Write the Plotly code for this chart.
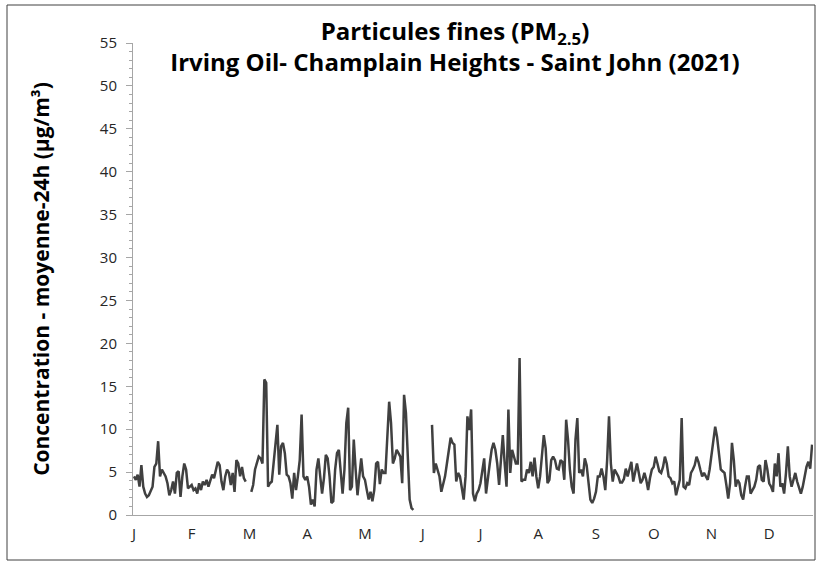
import plotly.graph_objects as go

# Moyennes 24h de PM2.5 (µg/m³), une valeur par jour
jan = [4.5, 4.1, 4.7, 3.3, 5.8, 3.3, 2.5, 2.1, 2.3, 2.9, 3.3, 5.6, 6.0, 8.6, 4.5, 5.3,
       4.9, 4.5, 3.7, 2.3, 2.9, 3.9, 2.5, 4.9, 5.1, 2.1, 4.5, 6.0, 5.3, 3.1, 3.3]
feb = [3.5, 2.9, 3.1, 2.5, 3.7, 2.9, 3.9, 3.5, 4.1, 3.3, 4.1, 4.7, 4.3, 5.3, 6.2, 5.8,
       3.9, 2.9, 4.5, 5.3, 4.9, 3.5, 4.9, 2.7, 6.4, 6.0, 4.5, 5.6]
mar = [4.3, 3.9, None, None, 2.7, 3.5, 5.3, 6.0, 6.8, 6.6, 6.0, 15.8, 15.4, 3.3, 3.7, 3.9,
       6.0, 8.4, 10.5, 4.7, 8.0, 8.4, 7.2, 4.7, 4.5, 3.7, 1.9, 4.9, 2.9, 4.5, 6.4]
apr = [11.7, 4.5, 4.1, 4.5, 3.3, 1.2, 1.8, 1.0, 5.3, 6.6, 4.5, 2.5, 4.3, 7.0, 6.6, 4.5,
       1.4, 1.6, 5.3, 7.2, 7.6, 4.5, 2.5, 5.3, 10.7, 12.5, 2.9, 3.3, 8.8, 5.3]
may = [2.3, 4.5, 6.6, 4.5, 4.1, 2.9, 1.8, 2.7, 1.6, 2.9, 6.0, 6.2, 3.6, 5.3, 4.9, 4.9,
       9.2, 13.2, 10.7, 6.0, 6.6, 7.6, 7.2, 6.8, 3.7, 14.0, 11.9, 6.0, 1.8, 0.8, 0.6]
jun = [None, None, None, None, None, None, None, None, None, 10.5, 4.9, 6.0, 5.3, 4.5,
       2.7, 3.6, 4.5, 6.0, 7.4, 9.0, 8.4, 8.2, 3.9, 4.9, 4.5, 2.9, 1.8, 4.5, 11.5, 9.9]
jul = [12.3, 2.5, 1.6, 2.5, 2.9, 3.7, 5.3, 6.6, 2.5, 4.5, 6.0, 7.6, 8.4, 7.6, 6.0, 3.5,
       6.0, 9.3, 6.0, 3.3, 12.3, 4.9, 7.6, 6.8, 6.0, 6.0, 18.3, 3.9, 4.1, 4.1, 5.3]
aug = [4.9, 6.2, 4.5, 6.7, 4.5, 3.1, 4.5, 6.8, 9.3, 7.8, 3.7, 4.1, 6.4, 6.8, 6.4, 5.4,
       5.3, 6.4, 6.2, 4.1, 11.1, 8.8, 5.3, 3.3, 2.5, 8.8, 11.3, 4.9, 5.3, 4.5, 6.6]
sep = [5.8, 3.3, 1.8, 1.4, 1.9, 2.7, 4.5, 4.5, 5.4, 4.5, 2.9, 6.4, 11.5, 6.0, 3.9, 5.3,
       4.9, 4.5, 3.8, 3.8, 4.2, 5.4, 4.5, 5.3, 6.2, 3.9, 4.9, 6.0, 4.9, 3.7]
oct = [4.1, 4.9, 4.1, 2.9, 4.3, 5.3, 5.6, 6.8, 6.0, 5.1, 4.9, 5.6, 6.8, 6.0, 4.5, 4.3,
       3.7, 3.9, 2.3, 3.3, 4.1, 11.3, 3.3, 3.1, 3.7, 3.5, 4.9, 5.3, 5.8, 6.8, 6.2]
nov = [5.3, 4.5, 4.9, 4.5, 4.1, 5.3, 7.2, 9.1, 10.3, 9.1, 6.8, 5.3, 5.1, 4.9, 3.5, 1.9,
       3.7, 8.4, 6.4, 3.3, 4.1, 3.7, 2.3, 1.8, 3.3, 4.5, 4.5, 2.5, 2.9, 3.3]
dec = [4.1, 5.6, 5.8, 4.1, 3.9, 6.4, 5.3, 3.7, 3.3, 2.7, 6.0, 4.5, 7.2, 3.3, 3.7, 2.5,
       4.9, 8.0, 4.5, 3.3, 4.1, 4.9, 3.9, 3.1, 2.5, 3.3, 4.5, 5.6, 6.2, 5.4, 8.2]

# étiquettes de l'axe X (une toutes les 31 valeurs, comme dans Excel)
mois = ["J", "F", "M", "A", "M", "J", "J", "A", "S", "O", "N", "D"]

valeurs = jan + feb + mar + apr + may + jun + jul + aug + sep + oct + nov + dec
jours = list(range(len(valeurs)))

fig = go.Figure()
fig.add_trace(go.Scatter(x=jours, y=valeurs, mode="lines",
                         line=dict(color="#404040", width=2.5),
                         connectgaps=False, showlegend=False))

fig.update_layout(
    width=820, height=566,
    paper_bgcolor="white", plot_bgcolor="white",
    margin=dict(l=133, r=7, t=43, b=51),
    font=dict(family="Open Sans", color="#262626"),
    title=dict(text="<b>Particules fines (PM<sub>2.5</sub>)<br>"
                    "Irving Oil- Champlain Heights - Saint John (2021)</b>",
               x=455 / 820, xanchor="center", y=0.93, yanchor="top",
               font=dict(size=24, color="black")),
    shapes=[dict(type="rect", xref="paper", yref="paper",
                 x0=(7 - 133) / 680, x1=(815 - 133) / 680,
                 y0=(515 - 560) / 472, y1=(515 - 5) / 472,
                 line=dict(color="#404040", width=1), layer="below")],
)

fig.update_xaxes(range=[-0.5, 364.5], tickmode="array",
                 tickvals=[i * 31 for i in range(12)], ticktext=mois,
                 showgrid=False, zeroline=False, showline=True,
                 linecolor="#a6a6a6", linewidth=1, ticks="",
                 ticklabelstandoff=5,
                 tickfont=dict(size=15, color="#262626"))

fig.update_yaxes(range=[0, 55], dtick=5, showgrid=False, zeroline=False,
                 showline=True, linecolor="#a6a6a6", linewidth=1,
                 ticks="outside", ticklen=6, tickcolor="#a6a6a6",
                 minor=dict(dtick=1, ticks="outside", ticklen=3, tickcolor="#a6a6a6"),
                 ticklabelstandoff=6,
                 tickfont=dict(size=15, color="#262626"),
                 title=dict(text="<b>Concentration - moyenne-24h (µg/m³)</b>",
                            font=dict(size=21, color="black"), standoff=44))

# pas de marge autour du graphique dans la page, pas de barre d'outils
fig.write_html("out.html", config={"displayModeBar": False},
               post_script="document.body.style.margin='0';")
